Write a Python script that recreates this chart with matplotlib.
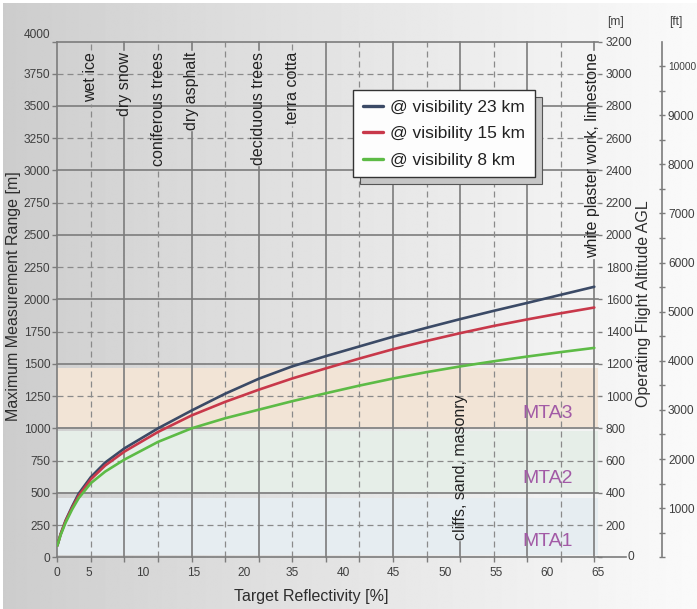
import numpy as np
import matplotlib
matplotlib.use("Agg")
import matplotlib.pyplot as plt
from matplotlib.patches import Rectangle
from matplotlib.transforms import IdentityTransform

plt.rcParams['font.family'] = ['Liberation Sans', 'DejaVu Sans']

# -----------------------------------------------------
# DATA
# -----------------------------------------------------
reflectivity = [0, 0.4, 1.0, 1.8, 2.6, 4.06, 5.8, 8.13, 12.19, 16.25, 20.3, 24.4,
                28.4, 32.5, 36.6, 40.6, 44.7, 48.75, 52.8, 56.9, 60.9, 65.0]
range_23km = [90, 180, 285, 395, 495, 622, 735, 845, 1000, 1138, 1268, 1385,
              1480, 1560, 1636, 1710, 1780, 1847, 1911, 1973, 2035, 2098]
range_15km = [90, 178, 280, 385, 478, 605, 712, 820, 972, 1100, 1205, 1300,
              1386, 1465, 1542, 1613, 1678, 1738, 1794, 1845, 1892, 1937]
range_8km = [90, 172, 268, 372, 460, 575, 665, 758, 895, 1000, 1078, 1145,
             1210, 1272, 1332, 1386, 1436, 1480, 1520, 1557, 1591, 1624]
series_labels = ["@ visibility 23 km", "@ visibility 15 km", "@ visibility 8 km"]

materials_top = ["wet ice", "dry snow", "coniferous trees", "dry asphalt",
                 "deciduous trees", "terra cotta", "white plaster work, limestone"]
materials_top_refl = [4.06, 8.13, 12.19, 16.25, 24.38, 28.44, 65.0]
materials_bottom = ["cliffs, sand, masonry"]
materials_bottom_refl = [48.75]

mta_names = ["MTA1", "MTA2", "MTA3"]
mta_low = [18, 504, 1008]
mta_high = [462, 982, 1466]

x_tick_labels = ["0", "5", "10", "15", "20", "35", "40", "45", "50", "55", "60", "65"]
y_ticks = list(range(0, 4001, 250))
alt_m_ticks = list(range(0, 3201, 200))
alt_ft_ticks = list(range(1000, 10001, 1000))

# -----------------------------------------------------
# LAYOUT / STYLE
# -----------------------------------------------------
W, H = 697, 609
X_MAX, Y_MAX = 65, 4000
N_GRID = 16
x_label_px = [57.3, 89.3, 143.3, 194, 245, 294, 345, 395.7, 447.3, 498.7, 550, 600.7]
AX_L, AX_T, AX_R, AX_B = 57.3, 41.5, 597.5, 557.3

GRID_COL = "#7c7c7c"
DASH_COL = "#8a8a8a"
TXT_COL = "#2e2e2e"
TICK_COL = "#3f3f3f"
TICK_SIZE = 8.6
solid_style = dict(color=GRID_COL, lw=1.2, zorder=1.5, clip_on=False)
dash_style = dict(color=DASH_COL, lw=0.9, ls=(0, (4.8, 3.2)), zorder=1.5, clip_on=False)
colors = ["#3b4a66", "#c8384a", "#5dbb46"]


def px_box(x0, y0, x1, y1):
    return [x0 / W, 1 - y1 / H, (x1 - x0) / W, (y1 - y0) / H]


def px_x_to_data(p):
    return (p - AX_L) / (AX_R - AX_L) * X_MAX


fig = plt.figure(figsize=(W / 100, H / 100), dpi=100)

# ---- background gradient ----
bg = fig.add_axes([0, 0, 1, 1], zorder=-10)
xx = np.linspace(0, 1, 500)
shade = 0.80 + 0.18 * xx ** 0.9
bg.imshow(np.tile(shade, (4, 1)), cmap="gray", vmin=0, vmax=1, aspect="auto",
          extent=[3, W, 0, H - 3], interpolation="bilinear")
bg.set_xlim(0, W)
bg.set_ylim(0, H)
bg.axis("off")

# ---- main axes ----
ax = fig.add_axes(px_box(AX_L, AX_T, AX_R, AX_B))
ax.patch.set_alpha(0)
ax.set_xlim(0, X_MAX)
ax.set_ylim(0, Y_MAX)

for name, lo, hi, col in zip(mta_names, mta_low, mta_high, ["#e6edf1", "#e6eee8", "#f2e4d6"]):
    ax.axhspan(lo, hi, color=col, zorder=0.5, lw=0)
    ax.text(px_x_to_data(550.5), lo + 0.23 * (hi - lo), name, color="#a25aa6",
            fontsize=14, ha="center", va="center", zorder=2)

for yv in y_ticks[1:-1]:
    ax.axhline(yv, **(solid_style if yv % 500 == 0 else dash_style))

for sp in ["top", "left", "bottom"]:
    ax.spines[sp].set_color(GRID_COL)
    ax.spines[sp].set_linewidth(1.2)
ax.spines["right"].set_visible(False)

grid_x = np.linspace(0, X_MAX, N_GRID + 1)
ax.xaxis.remove_overlapping_locs = False
ax.set_xticks(grid_x, [""] * len(grid_x))
ax.set_xticks([px_x_to_data(p) for p in x_label_px], x_tick_labels, minor=True)
ax.tick_params(axis="x", which="major", direction="out", length=3.6, width=1, color=GRID_COL)
ax.tick_params(axis="x", which="minor", length=0, pad=7, labelsize=TICK_SIZE,
               labelcolor=TICK_COL)
ax.set_yticks(y_ticks, [str(v) for v in y_ticks])
ax.tick_params(axis="y", direction="out", length=3.6, width=1, color=GRID_COL, pad=1.5,
               labelsize=TICK_SIZE, labelcolor=TICK_COL)
ax.get_yticklabels()[-1].set_verticalalignment("bottom")

# ---- curves ----
for vals, lab, col in zip([range_23km, range_15km, range_8km], series_labels, colors):
    ax.plot(reflectivity, vals, color=col, lw=1.9, label=lab, zorder=3,
            solid_capstyle="round", solid_joinstyle="round")

# ---- material labels ----
label_texts = []
for name, xv in zip(materials_top, materials_top_refl):
    t = ax.text(xv - (0.25 if xv >= X_MAX else 0), 3920, name, rotation=90, ha="center",
                va="top", fontsize=11.5, color="#222222", zorder=2)
    label_texts.append((t, xv))
for name, xv in zip(materials_bottom, materials_bottom_refl):
    t = ax.text(xv, 134, name, rotation=90, ha="center", va="bottom",
                fontsize=11.5, color="#222222", zorder=2)
    label_texts.append((t, xv))

# ---- legend ----
leg = ax.legend(loc="upper left", bbox_to_anchor=(353 / W, 1 - 90 / H),
                bbox_transform=fig.transFigure, borderaxespad=0, fontsize=12.5,
                handlelength=1.2, handletextpad=0.4, labelspacing=0.66, borderpad=0.55,
                fancybox=False, framealpha=1, facecolor="#fdfdfd", edgecolor="#333333")
leg.get_frame().set_linewidth(1.0)
for line in leg.get_lines():
    line.set_linewidth(2.4)
for t in leg.get_texts():
    t.set_color("#222222")

# ---- right axis [m] ----
ax_m = ax.twinx()
ax_m.set_ylim(0, 3200)
ax_m.set_yticks(alt_m_ticks, [""] + [str(v) for v in alt_m_ticks[1:]])
ax_m.tick_params(axis="y", direction="out", length=3, width=1, color=GRID_COL, pad=3,
                 labelsize=TICK_SIZE, labelcolor=TICK_COL)
for sp in ax_m.spines.values():
    sp.set_visible(False)
ax.plot([1.0, 1.0524], [0, 0], transform=ax.transAxes, color=GRID_COL, lw=1.2, clip_on=False)
ax.text(1.055, 0, "0", transform=ax.transAxes, ha="left", va="center", fontsize=TICK_SIZE,
        color=TICK_COL)

# ---- right axis [ft] ----
ax_ft = ax.twinx()
ax_ft.set_ylim(0, 3200 / 0.3048)
for sp in ["top", "left", "bottom"]:
    ax_ft.spines[sp].set_visible(False)
ax_ft.spines["right"].set_position(("axes", (661.7 - AX_L) / (AX_R - AX_L)))
ax_ft.spines["right"].set_color(GRID_COL)
ax_ft.spines["right"].set_linewidth(1.2)
ax_ft.set_yticks(alt_ft_ticks, [str(v) for v in alt_ft_ticks])
ax_ft.set_yticks(np.arange(0, 10500, 500), minor=True)
ax_ft.tick_params(axis="y", which="both", direction="inout", length=5, width=1,
                  color=GRID_COL, pad=2, labelsize=TICK_SIZE, labelcolor=TICK_COL)
# the widest label would run past the right edge, keep it a touch smaller
ax_ft.get_yticklabels()[-1].set_fontsize(7.3)

# ---- axis titles ----
fig.text(14 / W, 1 - 296.5 / H, "Maximum Measurement Range [m]", rotation=90,
         ha="center", va="center", fontsize=11.5, color=TXT_COL)
fig.text(311 / W, 1 - 596 / H, "Target Reflectivity [%]", ha="center", va="center",
         fontsize=11.5, color=TXT_COL)
fig.text(643.7 / W, 1 - 304 / H, "Operating Flight Altitude AGL", rotation=90,
         ha="center", va="center", fontsize=11.5, color=TXT_COL)
fig.text(615 / W, 1 - 22 / H, "[m]", ha="center", va="center", fontsize=TICK_SIZE,
         color=TICK_COL)
fig.text(676 / W, 1 - 22 / H, "[ft]", ha="center", va="center", fontsize=TICK_SIZE,
         color=TICK_COL)

# ---- vertical grid lines with gaps behind labels ----
fig.canvas.draw()
inv = ax.transData.inverted()
gaps = {}
for t, xv in label_texts:
    bb = t.get_window_extent()
    g0 = inv.transform((0, bb.y0 - 2))[1]
    g1 = inv.transform((0, bb.y1 + 2))[1]
    gaps.setdefault(int(round(xv * N_GRID / X_MAX)), []).append((g0, g1))

for k in range(1, N_GRID + 1):
    xv = grid_x[k]
    segs = [(0, Y_MAX)]
    for g0, g1 in gaps.get(k, []):
        new = []
        for a, b in segs:
            if g1 <= a or g0 >= b:
                new.append((a, b))
                continue
            if g0 > a:
                new.append((a, g0))
            if g1 < b:
                new.append((g1, b))
        segs = new
    for a, b in segs:
        ax.plot([xv, xv], [a, b], **(solid_style if k % 2 == 0 else dash_style))

# ---- legend shadow ----
fb = leg.get_frame().get_window_extent()
shadow = Rectangle((fb.x0 + 7, fb.y0 - 7), fb.width, fb.height, transform=IdentityTransform(),
                   facecolor="#c6c6c6", edgecolor="#555555", lw=0.8, zorder=4.9, clip_on=False)
ax.add_patch(shadow)

fig.savefig("out.png", dpi=100)
